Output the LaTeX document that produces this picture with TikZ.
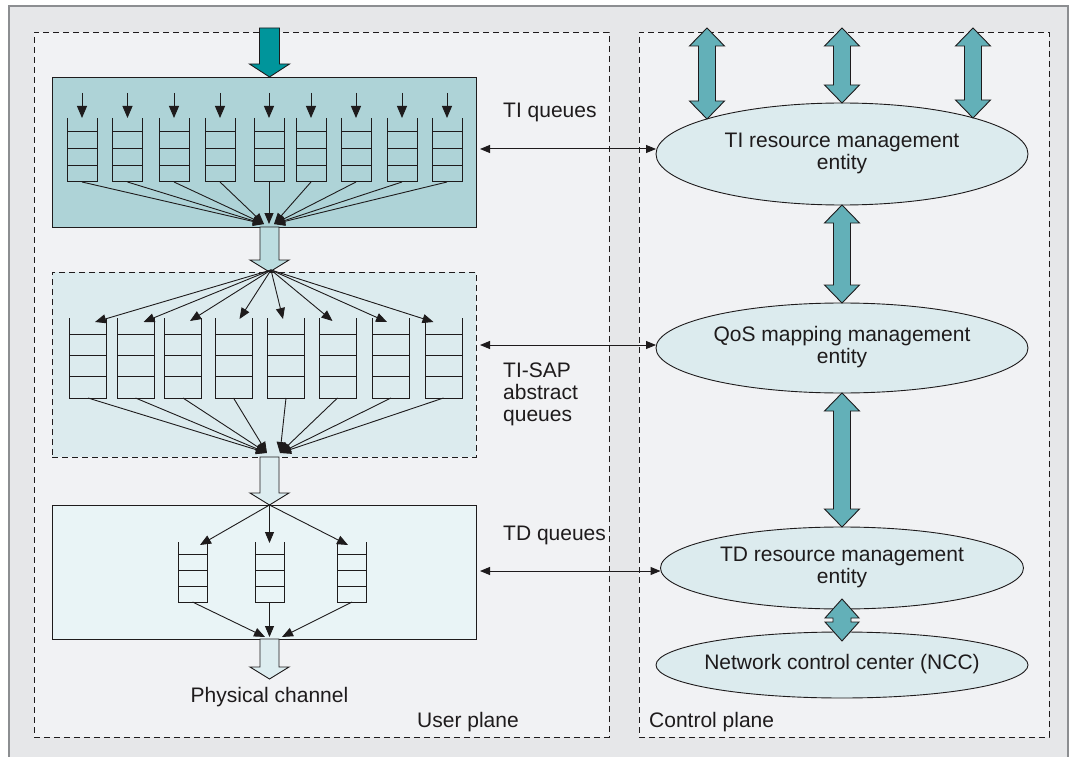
\documentclass[tikz,border=0pt]{standalone}
\usepackage{fontspec}
\setmainfont{Liberation Sans}
\usetikzlibrary{arrows.meta,shapes.geometric,calc}
\definecolor{outerbg}{HTML}{E6E7E9}
\definecolor{framecol}{HTML}{8C8E91}
\definecolor{panelbg}{HTML}{F1F2F4}
\definecolor{tifill}{HTML}{AED3D7}
\definecolor{sapfill}{HTML}{DCEBEE}
\definecolor{tdfill}{HTML}{E9F4F6}
\definecolor{ellfill}{HTML}{DCEBEE}
\definecolor{inteal}{HTML}{00959B}
\definecolor{dteal}{HTML}{63B0B8}
\definecolor{lightarr}{HTML}{BCDDE0}
\definecolor{lightarrb}{HTML}{DDEDF0}
\definecolor{ink}{HTML}{1E1B1C}
\newcommand\blockdown[6]{\path[#1] let \p1=(#2), \p2=(#3) in
  (\x1-#4pt,\y1) -- (\x1+#4pt,\y1) -- (\x1+#4pt,\y2+#6pt) -- (\x1+#5pt,\y2+#6pt) -- (\x1,\y2)
  -- (\x1-#5pt,\y2+#6pt) -- (\x1-#4pt,\y2+#6pt) -- cycle;}
\newcommand\blockboth[6]{\path[#1] let \p1=(#2), \p2=(#3) in
  (\x1,\y1) -- (\x1+#5pt,\y1-#6pt) -- (\x1+#4pt,\y1-#6pt) -- (\x1+#4pt,\y2+#6pt) -- (\x1+#5pt,\y2+#6pt)
  -- (\x1,\y2) -- (\x1-#5pt,\y2+#6pt) -- (\x1-#4pt,\y2+#6pt) -- (\x1-#4pt,\y1-#6pt) -- (\x1-#5pt,\y1-#6pt) -- cycle;}
\newcommand\elltext[1]{\makebox[0pt]{\begin{tabular}{@{}c@{}}#1\end{tabular}}}
\begin{document}
\begin{tikzpicture}[x=1pt,y=-1pt,
  every node/.style={font=\fontsize{21}{22}\selectfont, text=ink},
  panel/.style={draw=ink, fill=panelbg, dash pattern=on 6pt off 4pt, line width=0.8pt, inner sep=0pt, outer sep=0pt},
  tiboxst/.style={draw=ink, fill=tifill, line width=0.9pt, inner sep=0pt, outer sep=0pt},
  sapboxst/.style={draw=ink, fill=sapfill, dash pattern=on 6pt off 4pt, line width=0.9pt, inner sep=0pt, outer sep=0pt},
  tdboxst/.style={draw=ink, fill=tdfill, line width=0.9pt, inner sep=0pt, outer sep=0pt},
  ell/.style={ellipse, draw=ink, fill=ellfill, line width=0.9pt, inner sep=0pt, outer sep=0pt},
  qline/.style={draw=ink, line width=1pt},
  farrow/.style={draw=ink, line width=0.9pt, -{Triangle[length=11pt,width=9pt]}},
  inarrow/.style={draw=ink, line width=0.9pt, -{Triangle[length=12pt,width=10pt]}},
  harrow/.style={draw=ink, line width=1pt, {Triangle[length=10pt,width=8pt]}-{Triangle[length=10pt,width=8pt]}},
  inblock/.style={fill=inteal, draw=ink, line width=0.9pt},
  lblock/.style={fill=lightarr, draw=ink, line width=0.9pt},
  lblockb/.style={fill=lightarrb, draw=ink, line width=0.9pt},
  tblock/.style={fill=dteal, draw=ink, line width=0.9pt},
  qpic/.pic={
    \draw[qline] (-0.5,0) -- (-0.5,1) -- (0.5,1) -- (0.5,0);
    \foreach \yy in {0.21,0.473,0.737} \draw[qline] (-0.5,\yy) -- (0.5,\yy);
    \coordinate (-t) at (0,0);
    \coordinate (-b) at (0,1);
  }]
\useasboundingbox (0,0) rectangle (1077,757);
\fill[white] (0,0) rectangle (1077,757);
\fill[outerbg] (9,6) rectangle (1068,757);
\draw[framecol, line width=1.3pt] (9,757) -- (9,6) -- (1068,6) -- (1068,757);

% planes
\node[panel, minimum width=575pt, minimum height=705pt] (user) at (321.5,384.5) {};
\node[panel, minimum width=410pt, minimum height=705pt] (ctrl) at (844,384.5) {};

% user-plane boxes
\node[tiboxst, minimum width=424pt, minimum height=150pt] (tibox) at (264,152) {};
\node[sapboxst, minimum width=424pt, minimum height=185pt] (sapbox) at (264,364.5) {};
\node[tdboxst, minimum width=424pt, minimum height=134pt] (tdbox) at (264,572) {};

% block arrows along the user plane
\coordinate (in0) at (269.5,28);
\coordinate (spine) at (269.5,0);
\coordinate (out0) at (269.5,679);
\blockdown{inblock}{in0}{in0 |- tibox.north}{10}{20}{13}
\blockdown{lblock}{spine |- tibox.south}{spine |- sapbox.north}{9.5}{19.5}{12}
\blockdown{lblockb}{spine |- sapbox.south}{spine |- tdbox.north}{9.5}{19.5}{12}
\blockdown{lblockb}{spine |- tdbox.south}{out0}{9.5}{19.5}{12}

% TI queues
\foreach \i/\cx in {1/82,2/127.5,3/174,4/220,5/269,6/311,7/356,8/402,9/447}{
  \pic[xscale=30,yscale=64] (a\i) at (\cx,118) {qpic};
  \coordinate (ain\i) at ($(a\i-t)+(0,-25)$);
  \draw[inarrow] (ain\i) -- (a\i-t);
}
\coordinate (cA) at (264,224);
\coordinate (cM) at (269,224);
\coordinate (cB) at (274,224);
\foreach \i in {1,...,4} \draw[farrow] (a\i-b) -- (cA);
\draw[farrow] (a5-b) -- (cM);
\foreach \i in {6,...,9} \draw[farrow] (a\i-b) -- (cB);

% TI-SAP abstract queues
\coordinate (src2) at (271,270);
\foreach \i/\cx in {1/88,2/135.5,3/183,4/233.5,5/286,6/337.5,7/391,8/443.5}{
  \pic[xscale=37,yscale=80] (b\i) at (\cx,318) {qpic};
}
\foreach \i/\dx/\dy in {1/7/4,2/8/4,3/7/3,4/6/1,5/-3/1,6/-5/3,7/-4/4,8/-10/4}{
  \coordinate (bt\i) at ($(b\i-t)+(\dx,\dy)$);
  \draw[farrow] (src2) -- (bt\i);
}
\coordinate (dA) at (267,453);
\coordinate (dB) at (280,453);
\foreach \i in {1,...,4} \draw[farrow] (b\i-b) -- (dA);
\foreach \i in {5,...,8} \draw[farrow] (b\i-b) -- (dB);

% TD queues
\coordinate (src3) at (269.5,505);
\foreach \i/\cx in {1/192.5,2/269.5,3/352}{
  \pic[xscale=29,yscale=60] (c\i) at (\cx,542) {qpic};
}
\foreach \i/\dx/\dy in {1/7.5/3,2/0/1,3/-4/3}{
  \coordinate (ct\i) at ($(c\i-t)+(\dx,\dy)$);
  \draw[farrow] (src3) -- (ct\i);
}
\coordinate (eA) at (265,637);
\coordinate (eM) at (269.5,637);
\coordinate (eB) at (282,637);
\draw[farrow] (c1-b) -- (eA);
\draw[farrow] (c2-b) -- (eM);
\draw[farrow] (c3-b) -- (eB);

% labels in user plane
\node[anchor=base west, inner sep=0pt] (lti) at (503,118) {TI queues};
\node[anchor=base west, inner sep=0pt] (lsap) at (503,377) {\begin{tabular}[t]{@{}l@{}}TI-SAP\\abstract\\queues\end{tabular}};
\node[anchor=base west, inner sep=0pt] (ltd) at (503,540) {TD queues};
\node[anchor=base, inner sep=0pt] (lphy) at (269.5,702) {Physical channel};
\node[anchor=base west, inner sep=0pt] (luser) at (417,727) {User plane};
\node[anchor=base west, inner sep=0pt] (lctrl) at (649,727) {Control plane};

% control plane entities
\node[ell, minimum width=372pt, minimum height=102pt] (ti) at (842,154) {\elltext{TI resource management\\entity}};
\node[ell, minimum width=372pt, minimum height=90pt] (qos) at (842,348) {\elltext{QoS mapping management\\entity}};
\node[ell, minimum width=363pt, minimum height=82pt] (td) at (842,568) {\elltext{TD resource management\\entity}};
\node[ell, minimum width=372pt, minimum height=66pt] (ncc) at (842,665) {\elltext{Network control center (NCC)}};

% horizontal links
\coordinate (h1) at (480,149);
\coordinate (h2) at (480,345);
\coordinate (h3) at (480,571);
\draw[harrow] (h1) -- (h1 -| ti.west);
\draw[harrow] (h2) -- (h2 -| qos.west);
\draw[harrow] (h3) -- (h3 -| td.west);

% thick double arrows
\coordinate (u1) at (707,28);
\coordinate (u2) at (842,28);
\coordinate (u3) at (973,28);
\coordinate (e1) at ($(ti.center)+(-135,-35)$);
\coordinate (e3) at ($(ti.center)+(131,-36)$);
\blockboth{tblock}{u1}{e1}{8.5}{17.5}{18}
\blockboth{tblock}{u2}{ti.north}{8.5}{17.5}{18}
\blockboth{tblock}{u3}{e3}{8.5}{17.5}{18}
\blockboth{tblock}{ti.south}{qos.north}{8.5}{17.5}{18}
\blockboth{tblock}{qos.south}{td.north}{8.5}{17.5}{18}
\coordinate (tdlow) at ($(td.south)+(0,-10)$);
\coordinate (ncchigh) at ($(ncc.north)+(0,9)$);
\blockboth{tblock}{tdlow}{ncchigh}{9}{17}{19}
\end{tikzpicture}
\end{document}
